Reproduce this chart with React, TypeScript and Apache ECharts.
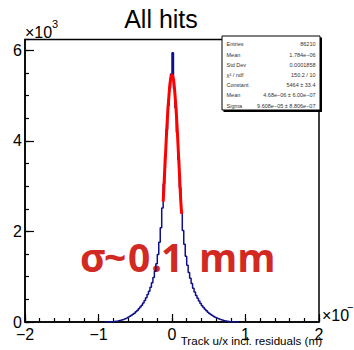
import React, { useEffect, useRef } from "react";
import * as echarts from "echarts";

// Histogram: 100 bins of width 0.02 (x10^-3 m) starting at -1.0
const binStart = -1.0;
const binWidth = 0.02;
const counts = [
  0, 0, 0, 0, 0, 1, 1, 3, 4, 6,
  10, 14, 19, 26, 33, 42, 52, 64, 78, 92,
  108, 126, 147, 170, 195, 224, 255, 290, 330, 372,
  420, 476, 538, 605, 680, 765, 865, 985, 1120, 1285,
  1490, 1760, 2080, 2520, 3050, 3660, 4250, 4780, 5180, 5480,
  5950, 5150, 4740, 4190, 3590, 2970, 2440, 2020, 1715, 1455,
  1255, 1095, 965, 848, 748, 662, 588, 522, 462, 408,
  358, 318, 280, 246, 216, 188, 163, 141, 121, 104,
  88, 74, 61, 49, 39, 30, 23, 17, 12, 8,
  5, 3, 2, 1, 1, 0, 0, 0, 0, 0,
];

// Gaussian fit curve
const fitX = [-0.12, -0.1, -0.08, -0.06, -0.04, -0.02, 0, 0.02, 0.04, 0.06, 0.08, 0.1, 0.12, 0.132];
const fitY = [2660, 3315, 3970, 4575, 5030, 5355, 5464, 5355, 5030, 4575, 3970, 3315, 2660, 2390];

const yMajorLabels = ["0", "2", "4", "6"];
const statsLabels = ["Entries", "Mean", "Std Dev", "χ² / ndf", "Constant", "Mean", "Sigma"];
const statsValues = [
  "86210",
  "1.784e−06",
  "0.0001858",
  "150.2 / 10",
  "5464 ± 33.4",
  "4.68e−06 ± 6.00e−07",
  "9.608e−05 ± 8.806e−07",
];
const noteGlyphs = ["σ", "~", "0", ".", "1", "mm"];

const FONT = "Liberation Sans, Arial, sans-serif";

export default function App() {
  const ref = useRef<HTMLDivElement>(null);
  useEffect(() => {
    if (!ref.current) return;
    const chart = echarts.init(ref.current, undefined, { renderer: "svg" });

    const histData: [number, number][] = [];
    counts.forEach((c, i) => {
      const prev = i > 0 ? counts[i - 1] : 0;
      const next = i < counts.length - 1 ? counts[i + 1] : 0;
      if (c > 0 || prev > 0 || next > 0) {
        histData.push([binStart + binWidth * (i + 0.5), c]);
      }
    });
    const fitData = fitX.map((x, i) => [x, fitY[i]]);

    const rowTop = 44.3;
    const rowStep = 10.2;
    const statsChildren: any[] = [
      { type: "rect", shape: { x: 223.5, y: 37.5, width: 98.5, height: 74.5 }, style: { fill: "#000" } },
      { type: "rect", shape: { x: 222, y: 36, width: 98, height: 74 }, style: { fill: "#fff", stroke: "#000", lineWidth: 1 } },
    ];
    statsLabels.forEach((l, i) => {
      statsChildren.push({
        type: "text",
        x: 226.5,
        y: rowTop + rowStep * i,
        style: { text: l, font: `5.5px ${FONT}`, fill: "#333", align: "left", verticalAlign: "middle" },
      });
      statsChildren.push({
        type: "text",
        x: 315.5,
        y: rowTop + rowStep * i,
        style: { text: statsValues[i], font: `5.5px ${FONT}`, fill: "#333", align: "right", verticalAlign: "middle" },
      });
    });

    const noteX = [80, 104, 128, 151, 161, 199];
    const noteChildren = noteGlyphs.map((g, i) => ({
      type: "text",
      x: noteX[i],
      y: 256,
      style: { text: g, font: `bold 39px "Open Sans", sans-serif`, fill: "#d22a22", align: "left", verticalAlign: "middle" },
    }));

    const yMax = 6240;
    chart.setOption({
      animation: false,
      grid: {
        left: 25,
        right: 35,
        top: 39.5,
        bottom: 28,
        show: true,
        borderColor: "#000",
        borderWidth: 1.5,
        backgroundColor: "transparent",
      },
      xAxis: [
        {
          type: "value",
          min: -2,
          max: 2,
          interval: 1,
          axisLine: { show: true, onZero: false, lineStyle: { color: "#000", width: 1.5 } },
          axisTick: { show: true, inside: true, length: 8, lineStyle: { color: "#000", width: 1.2 } },
          axisLabel: {
            show: true,
            margin: 4,
            color: "#000",
            fontFamily: FONT,
            fontSize: 16,
            formatter: (v: number) => String(v).replace("-", "−"),
          },
          splitLine: { show: false },
        },
        {
          type: "value",
          min: -2,
          max: 2,
          interval: 0.2,
          position: "bottom",
          axisLine: { show: false, onZero: false },
          axisTick: { show: true, inside: true, length: 4, lineStyle: { color: "#000", width: 1.2 } },
          axisLabel: { show: false },
          splitLine: { show: false },
        },
      ],
      yAxis: [
        {
          type: "value",
          min: 0,
          max: yMax,
          interval: 2000,
          axisLine: { show: true, onZero: false, lineStyle: { color: "#000", width: 1.5 } },
          axisTick: { show: true, inside: true, length: 9, lineStyle: { color: "#000", width: 1.2 } },
          axisLabel: {
            show: true,
            margin: 3,
            color: "#000",
            fontFamily: FONT,
            fontSize: 16,
            showMaxLabel: false,
            formatter: (v: number) => (v % 2000 === 0 ? yMajorLabels[v / 2000] ?? "" : ""),
          },
          splitLine: { show: false },
        },
        {
          type: "value",
          min: 0,
          max: yMax,
          interval: 500,
          position: "left",
          axisLine: { show: false, onZero: false },
          axisTick: { show: true, inside: true, length: 4, lineStyle: { color: "#000", width: 1.2 } },
          axisLabel: { show: false },
          splitLine: { show: false },
        },
      ],
      series: [
        {
          type: "line",
          data: histData,
          step: "middle",
          showSymbol: false,
          symbol: "none",
          lineStyle: { color: "#10108a", width: 1.5 },
          z: 3,
        },
        {
          type: "line",
          data: fitData,
          smooth: true,
          showSymbol: false,
          symbol: "none",
          lineStyle: { color: "#ff0000", width: 3 },
          z: 4,
        },
      ],
      graphic: [
        {
          type: "text",
          x: 161,
          y: 19,
          style: { text: "All hits", font: `25px ${FONT}`, fill: "#000", align: "center", verticalAlign: "middle" },
        },
        {
          type: "text",
          x: 25,
          y: 32,
          style: { text: "×10", font: `16px ${FONT}`, fill: "#000", align: "left", verticalAlign: "middle" },
        },
        {
          type: "text",
          x: 52,
          y: 24,
          style: { text: "3", font: `11px ${FONT}`, fill: "#000", align: "left", verticalAlign: "middle" },
        },
        {
          type: "text",
          x: 322,
          y: 315,
          style: { text: "×10", font: `16px ${FONT}`, fill: "#000", align: "left", verticalAlign: "middle" },
        },
        {
          type: "text",
          x: 347,
          y: 307,
          style: { text: "−3", font: `11px ${FONT}`, fill: "#000", align: "left", verticalAlign: "middle" },
        },
        {
          type: "text",
          x: 322,
          y: 340,
          style: {
            text: "Track u/x incl. residuals (m)",
            font: `11.6px ${FONT}`,
            fill: "#000",
            align: "right",
            verticalAlign: "middle",
          },
        },
        { type: "group", children: statsChildren, z: 10 },
        { type: "group", children: noteChildren, z: 20 },
      ],
    });
    return () => chart.dispose();
  }, []);
  return <div ref={ref} style={{ width: 354, height: 350, position: "absolute", left: 0, top: 0 }} />;
}
